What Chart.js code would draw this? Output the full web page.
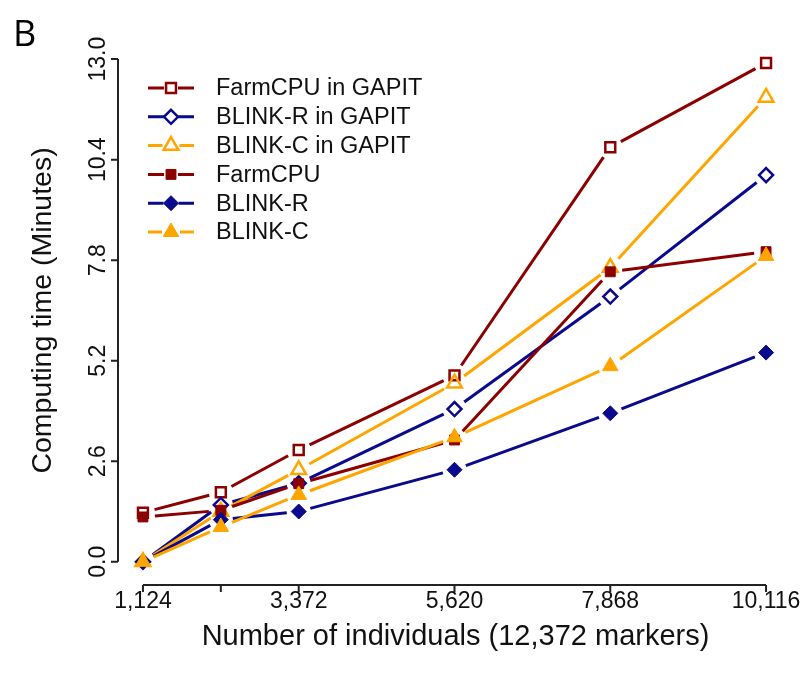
<!DOCTYPE html>
<html>
<head>
<meta charset="utf-8">
<script src="https://cdn.jsdelivr.net/npm/chart.js@4.4.1/dist/chart.umd.min.js"></script>
<style>
  html, body { margin: 0; padding: 0; background: #fff; }
</style>
</head>
<body>
<canvas id="myChart" width="809" height="684"></canvas>
<script>
// x values (number of individuals) and axis labels
const individuals = [1124, 2248, 3372, 5620, 7868, 10116];
const xTickLabels = ['1,124', '', '3,372', '5,620', '7,868', '10,116'];
const yTicks = [0, 2.6, 5.2, 7.8, 10.4, 13.0];

// computing time in minutes
const farmcpuGapit = [1.27, 1.80, 2.89, 4.82, 10.72, 12.90];
const blinkRGapit  = [0.00, 1.47, 2.03, 3.95, 6.86, 10.00];
const blinkCGapit  = [0.00, 1.30, 2.38, 4.62, 7.61, 12.01];
const farmcpu      = [1.16, 1.33, 2.02, 3.15, 7.50, 8.02];
const blinkR       = [0.00, 1.09, 1.30, 2.38, 3.84, 5.41];
const blinkC       = [0.00, 0.90, 1.73, 3.22, 5.06, 7.91];

const seriesNames = ['FarmCPU in GAPIT', 'BLINK-R in GAPIT', 'BLINK-C in GAPIT', 'FarmCPU', 'BLINK-R', 'BLINK-C'];
const seriesData = [farmcpuGapit, blinkRGapit, blinkCGapit, farmcpu, blinkR, blinkC];

const RED = '#8b0000';
const BLUE = '#0a0a8c';
const ORANGE = '#ffa500';
const styles = [
  { color: RED,    shape: 'rect',    r: 7,   filled: false },
  { color: BLUE,   shape: 'rectRot', r: 7,   filled: false },
  { color: ORANGE, shape: 'triangle', r: 8.5, filled: false },
  { color: RED,    shape: 'rect',    r: 7,   filled: true },
  { color: BLUE,   shape: 'rectRot', r: 7.5, filled: true },
  { color: ORANGE, shape: 'triangle', r: 9,   filled: true }
];

const FONT = '"Liberation Sans", Arial, sans-serif';
const GAP = 12; // R type="b" gap around points

const datasets = seriesNames.map((name, i) => ({
  label: name,
  data: individuals.map((x, j) => ({ x: x, y: seriesData[i][j] })),
  showLine: false,
  borderColor: styles[i].color,
  pointStyle: styles[i].shape,
  pointRadius: styles[i].r,
  pointBorderWidth: styles[i].filled ? 1 : 2.5,
  pointBorderColor: styles[i].color,
  pointBackgroundColor: styles[i].filled ? styles[i].color : 'rgba(0,0,0,0)',
  order: seriesNames.length - i
}));

function drawMarker(ctx, s, x, y) {
  const r = s.r;
  ctx.beginPath();
  if (s.shape === 'rect') {
    const h = r * Math.SQRT1_2;
    ctx.rect(x - h, y - h, 2 * h, 2 * h);
  } else if (s.shape === 'rectRot') {
    ctx.moveTo(x, y - r); ctx.lineTo(x + r, y); ctx.lineTo(x, y + r); ctx.lineTo(x - r, y);
    ctx.closePath();
  } else {
    let a = 0;
    ctx.moveTo(x + Math.sin(a) * r, y - Math.cos(a) * r);
    a += 2 * Math.PI / 3;
    ctx.lineTo(x + Math.sin(a) * r, y - Math.cos(a) * r);
    a += 2 * Math.PI / 3;
    ctx.lineTo(x + Math.sin(a) * r, y - Math.cos(a) * r);
    ctx.closePath();
  }
  ctx.strokeStyle = s.color;
  if (s.filled) {
    ctx.fillStyle = s.color;
    ctx.fill();
    ctx.lineWidth = 1;
  } else {
    ctx.lineWidth = 2.5;
  }
  ctx.stroke();
}

const rStylePlot = {
  id: 'rStylePlot',
  beforeDraw(chart) {
    const ctx = chart.ctx;
    ctx.save();
    ctx.fillStyle = '#fff';
    ctx.fillRect(0, 0, chart.width, chart.height);
    ctx.restore();
  },
  beforeDatasetDraw(chart, args) {
    // lines with gaps at the points, like R's type = "b"
    const ctx = chart.ctx;
    const pts = args.meta.data;
    ctx.save();
    ctx.strokeStyle = styles[args.index].color;
    ctx.lineWidth = 3;
    for (let i = 0; i < pts.length - 1; i++) {
      const a = pts[i], b = pts[i + 1];
      const dx = b.x - a.x, dy = b.y - a.y;
      const len = Math.hypot(dx, dy);
      if (len <= 2 * GAP) continue;
      const ux = dx / len, uy = dy / len;
      ctx.beginPath();
      ctx.moveTo(a.x + ux * GAP, a.y + uy * GAP);
      ctx.lineTo(b.x - ux * GAP, b.y - uy * GAP);
      ctx.stroke();
    }
    ctx.restore();
  },
  afterDraw(chart) {
    const ctx = chart.ctx;
    const xs = chart.scales.x, ys = chart.scales.y;
    const area = chart.chartArea;
    ctx.save();
    ctx.strokeStyle = '#222';
    ctx.fillStyle = '#111';
    ctx.lineWidth = 2;

    // x axis
    const xb = area.bottom;
    ctx.beginPath();
    ctx.moveTo(xs.getPixelForValue(individuals[0]), xb);
    ctx.lineTo(xs.getPixelForValue(individuals[individuals.length - 1]), xb);
    individuals.forEach(v => {
      const px = xs.getPixelForValue(v);
      ctx.moveTo(px, xb);
      ctx.lineTo(px, xb + 7);
    });
    ctx.stroke();
    ctx.font = '23px ' + FONT;
    ctx.textAlign = 'center';
    ctx.textBaseline = 'middle';
    individuals.forEach((v, i) => {
      if (xTickLabels[i]) ctx.fillText(xTickLabels[i], xs.getPixelForValue(v), xb + 17);
    });
    ctx.font = '29px ' + FONT;
    const xMid = (xs.getPixelForValue(individuals[0]) + xs.getPixelForValue(individuals[individuals.length - 1])) / 2;
    ctx.fillText('Number of individuals (12,372 markers)', xMid + 1, 637);

    // y axis
    const yl = area.left;
    ctx.beginPath();
    ctx.moveTo(yl, ys.getPixelForValue(yTicks[0]));
    ctx.lineTo(yl, ys.getPixelForValue(yTicks[yTicks.length - 1]));
    yTicks.forEach(v => {
      const py = ys.getPixelForValue(v);
      ctx.moveTo(yl, py);
      ctx.lineTo(yl - 7, py);
    });
    ctx.stroke();
    ctx.font = '23px ' + FONT;
    yTicks.forEach(v => {
      ctx.save();
      ctx.translate(yl - 19, ys.getPixelForValue(v));
      ctx.rotate(-Math.PI / 2);
      ctx.fillText(v.toFixed(1), 0, 0);
      ctx.restore();
    });
    const yMid = (ys.getPixelForValue(yTicks[0]) + ys.getPixelForValue(yTicks[yTicks.length - 1])) / 2;
    ctx.save();
    ctx.translate(43, yMid);
    ctx.rotate(-Math.PI / 2);
    ctx.font = '28.5px ' + FONT;
    ctx.fillText('Computing time (Minutes)', 0, 0);
    ctx.restore();

    // legend
    ctx.font = '23.5px ' + FONT;
    ctx.textAlign = 'left';
    seriesNames.forEach((name, i) => {
      const y = 88 + i * 28.8;
      const s = styles[i];
      ctx.strokeStyle = s.color;
      ctx.lineWidth = 3;
      ctx.beginPath();
      ctx.moveTo(148, y); ctx.lineTo(171 - s.r, y);
      ctx.moveTo(171 + s.r, y); ctx.lineTo(194, y);
      ctx.stroke();
      drawMarker(ctx, s, 171, y);
      ctx.fillStyle = '#111';
      ctx.fillText(name, 216, y + 1);
    });

    // panel letter
    ctx.font = '36px "Open Sans", ' + FONT;
    ctx.fillStyle = '#000';
    ctx.textBaseline = 'alphabetic';
    ctx.fillText('B', 13, 46);
    ctx.restore();
  }
};

const ctx = document.getElementById('myChart').getContext('2d');
new Chart(ctx, {
  type: 'scatter',
  data: { datasets: datasets },
  options: {
    responsive: false,
    animation: false,
    devicePixelRatio: 1,
    layout: { padding: { left: 118, right: 18, top: 39, bottom: 99 } },
    plugins: { legend: { display: false }, tooltip: { enabled: false } },
    scales: {
      x: { type: 'linear', min: 764, max: 10476, display: false },
      y: { type: 'linear', min: -0.6, max: 13.52, display: false }
    }
  },
  plugins: [rStylePlot]
});
</script>
</body>
</html>
